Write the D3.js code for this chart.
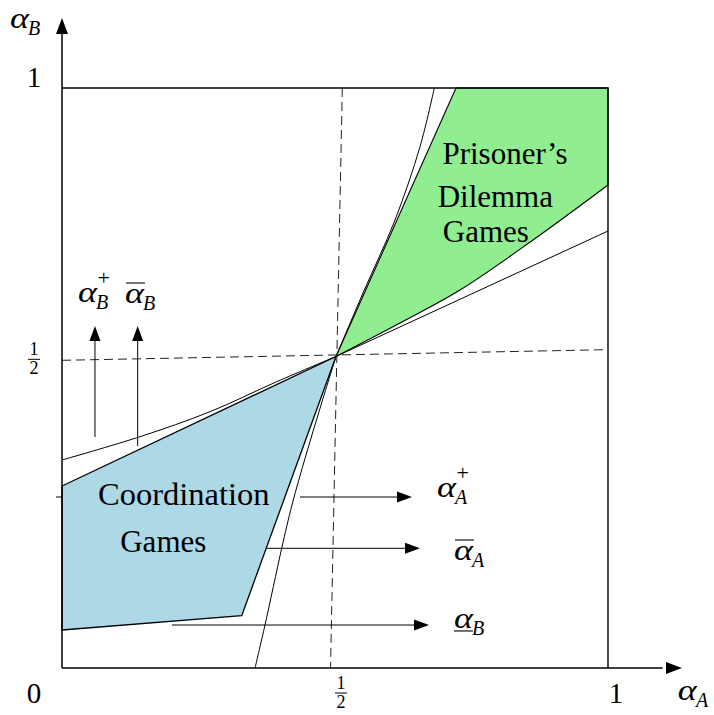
<!DOCTYPE html>
<html><head><meta charset="utf-8">
<script src="https://cdn.jsdelivr.net/npm/d3@7"></script>
<style>body{margin:0;background:#fff}</style>
</head><body>
<svg id="chart" width="714" height="715"></svg>
<script>
// Points are (alpha_A, alpha_B) in the unit square.
const centre = [0.5018, 0.5371];

// Prisoner's Dilemma region: straight upper side, curved lower side
const pdUpper = [centre, [0.7216, 1], [1, 1], [1, 0.8328]];
const pdLower = [[1, 0.8328], [0.8626, 0.7379], [0.7289, 0.6517], [0.6190, 0.5948], centre];

// Coordination region
const coordEdge = [centre, [0.3291, 0.0902], [0, 0.0655], [0, 0.3138], centre];

// Threshold curves through the centre
const threshSteep = [centre, [0.5513, 0.6466], [0.6099, 0.7724], [0.6557, 0.8988], [0.6819, 1]];
const threshShallow = [centre, [1, 0.7534]];
const threshLeft = [[0, 0.3586], [0.1429, 0.3988], [0.2711, 0.4419], [0.3932, 0.4936], centre];
const threshLow = [centre, [0.4744, 0.4534], [0.4469, 0.3672], [0.4212, 0.2810],
                   [0.4024, 0.2064], [0.3718, 0.0741], [0.3535, 0]];

// Dashed guides at one half
const halfV = [[0.5134, 1], [0.4918, 0]];
const halfH = [[0, 0.5305], [0.9963, 0.5488]];

// Shift arrows (start, end)
const arrowStarts = [[0.0604, 0.3983], [0.1386, 0.3828], [0.4359, 0.2948], [0.3744, 0.2064], [0.2015, 0.0741]];
const arrowEnds   = [[0.0604, 0.5897], [0.1386, 0.5897], [0.6410, 0.2948], [0.6557, 0.2064], [0.6722, 0.0741]];

// Threshold labels: anchor (alpha_A, alpha_B), subscript, superscript, bar
const symAnchors = [[0.0293, 0.6310], [0.1154, 0.6293], [0.6868, 0.2948], [0.7179, 0.1862], [0.7179, 0.0690]];
const symSubs = ["B", "B", "A", "A", "B"];
const symSups = ["+", "", "+", "", ""];
const symBars = ["", "over", "", "over", "under"];

// Region names
const regionLines = [["Prisoner\u2019s", "Dilemma", "Games"], ["Coordination", "Games"]];
const regionAnchors = [[[0.8114, 0.8690], [0.7936, 0.7953], [0.7762, 0.7350]],
                       [[0.2231, 0.2810], [0.1855, 0.2000]]];

// Axis tick labels
const xTickVals = [0, 0.511, 1];
const xTickLabels = ["0", "1/2", "1"];
const yTickVals = [0.5305, 1];
const yTickLabels = ["1/2", "1"];

const svg = d3.select("#chart");
const x = d3.scaleLinear().domain([0, 1]).range([62, 608]);
const y = d3.scaleLinear().domain([0, 1]).range([668, 88]);

const line = d3.line().x(d => x(d[0])).y(d => y(d[1]));
const curve = d3.line().x(d => x(d[0])).y(d => y(d[1])).curve(d3.curveCatmullRom.alpha(0.5));

const serif = "'Liberation Serif', 'Times New Roman', serif";

// Filled regions
svg.append("path")
  .attr("d", line(pdUpper) + curve(pdLower).replace(/^M/, "L") + "Z")
  .attr("fill", "#90ee90").attr("stroke", "#000").attr("stroke-width", 1.1)
  .attr("stroke-linejoin", "round");
svg.append("path")
  .attr("d", line(coordEdge) + "Z")
  .attr("fill", "#add8e6").attr("stroke", "#000").attr("stroke-width", 1.3)
  .attr("stroke-linejoin", "round");

// Threshold curves
[threshSteep, threshLeft, threshLow].forEach(c => {
  svg.append("path").attr("d", curve(c)).attr("fill", "none")
    .attr("stroke", "#000").attr("stroke-width", 1);
});
svg.append("path").attr("d", line(threshShallow)).attr("fill", "none")
  .attr("stroke", "#000").attr("stroke-width", 1);

// Dashed guides
[halfV, halfH].forEach(g => {
  svg.append("path").attr("d", line(g)).attr("fill", "none")
    .attr("stroke", "#222").attr("stroke-width", 1).attr("stroke-dasharray", "9,5");
});

// Frame (top and right) and axes
svg.append("path").attr("d", line([[0, 1], [1, 1], [1, 0]]))
  .attr("fill", "none").attr("stroke", "#000").attr("stroke-width", 1.4);

function arrowHead(tx, ty, dx, dy, len, half) {
  const bx = tx - dx * len, by = ty - dy * len;
  const px = -dy * half, py = dx * half;
  return `M${tx},${ty}L${bx + px},${by + py}L${bx - px},${by - py}Z`;
}

// alpha_A axis
svg.append("line").attr("x1", x(0)).attr("y1", y(0)).attr("x2", x(1.1)).attr("y2", y(0))
  .attr("stroke", "#000").attr("stroke-width", 1.5);
svg.append("path").attr("d", arrowHead(x(1.1355), y(0), 1, 0, 16, 6)).attr("fill", "#000");
// alpha_B axis
svg.append("line").attr("x1", x(0)).attr("y1", y(0)).attr("x2", x(0)).attr("y2", y(1.1))
  .attr("stroke", "#000").attr("stroke-width", 1.5);
svg.append("path").attr("d", arrowHead(x(0), y(1.1207), 0, -1, 16, 6)).attr("fill", "#000");
// small tick on the alpha_B axis
svg.append("line").attr("x1", x(0) - 6).attr("x2", x(0)).attr("y1", y(0.2948)).attr("y2", y(0.2948))
  .attr("stroke", "#000").attr("stroke-width", 1);

// Shift arrows
arrowStarts.forEach((s, i) => {
  const e = arrowEnds[i];
  const x1 = x(s[0]), y1 = y(s[1]), x2 = x(e[0]), y2 = y(e[1]);
  const L = Math.hypot(x2 - x1, y2 - y1), dx = (x2 - x1) / L, dy = (y2 - y1) / L;
  svg.append("line").attr("x1", x1).attr("y1", y1).attr("x2", x2 - dx * 8).attr("y2", y2 - dy * 8)
    .attr("stroke", "#000").attr("stroke-width", 1);
  svg.append("path").attr("d", arrowHead(x2, y2, dx, dy, 15, 5.5)).attr("fill", "#000");
});

// alpha symbol with subscript / superscript / bar
function alphaSym(px, py, sub, sup, bar) {
  const g = svg.append("g");
  const w = 19;
  g.append("text").attr("x", px).attr("y", py).text("\u03b1")
    .attr("font-family", serif).attr("font-style", "italic").attr("font-size", 29)
    .attr("textLength", w).attr("lengthAdjust", "spacingAndGlyphs");
  if (sup) g.append("text").attr("x", px + w + 0.5).attr("y", py - 17).text(sup)
    .attr("font-family", serif).attr("font-size", 22);
  if (sub) g.append("text").attr("x", px + w - 1).attr("y", py + 7).text(sub)
    .attr("font-family", serif).attr("font-style", "italic").attr("font-size", 20);
  if (bar === "over") g.append("line").attr("x1", px + 1).attr("x2", px + w + 1)
    .attr("y1", py - 20).attr("y2", py - 20).attr("stroke", "#000").attr("stroke-width", 1.1);
  if (bar === "under") g.append("line").attr("x1", px).attr("x2", px + w)
    .attr("y1", py + 3).attr("y2", py + 3).attr("stroke", "#000").attr("stroke-width", 1.1);
}

symAnchors.forEach((p, i) => alphaSym(x(p[0]), y(p[1]), symSubs[i], symSups[i], symBars[i]));

// Axis titles
alphaSym(x(1.128), y(-0.0552), "A", "", "");
alphaSym(x(-0.0952), y(1.1034), "B", "", "");

// Region names
regionLines.forEach((lines, r) => {
  lines.forEach((t, k) => {
    const p = regionAnchors[r][k];
    svg.append("text").attr("x", x(p[0])).attr("y", y(p[1])).text(t)
      .attr("text-anchor", "middle").attr("font-family", serif)
      .attr("font-size", r === 1 && k === 0 ? 32.5 : 31);
  });
});

// Tick labels; "1/2" is set as a stacked fraction
function tickLabel(cx, cy, label) {
  if (label === "1/2") {
    svg.append("text").attr("x", cx).attr("y", cy - 4).text("1").attr("text-anchor", "middle")
      .attr("font-family", serif).attr("font-size", 18);
    svg.append("line").attr("x1", cx - 6).attr("x2", cx + 6).attr("y1", cy).attr("y2", cy)
      .attr("stroke", "#000").attr("stroke-width", 1);
    svg.append("text").attr("x", cx).attr("y", cy + 15).text("2").attr("text-anchor", "middle")
      .attr("font-family", serif).attr("font-size", 18);
  } else {
    svg.append("text").attr("x", cx).attr("y", cy).text(label).attr("text-anchor", "middle")
      .attr("font-family", serif).attr("font-size", 29);
  }
}
xTickVals.forEach((v, i) => {
  const cx = i === 0 ? x(v) - 28 : x(v) + (i === 2 ? 8 : 0);
  tickLabel(cx, xTickLabels[i] === "1/2" ? y(0) + 25 : y(0) + 35, xTickLabels[i]);
});
yTickVals.forEach((v, i) => {
  tickLabel(x(0) - 28, y(v) - 1, yTickLabels[i]);
});
</script>
</body></html>
